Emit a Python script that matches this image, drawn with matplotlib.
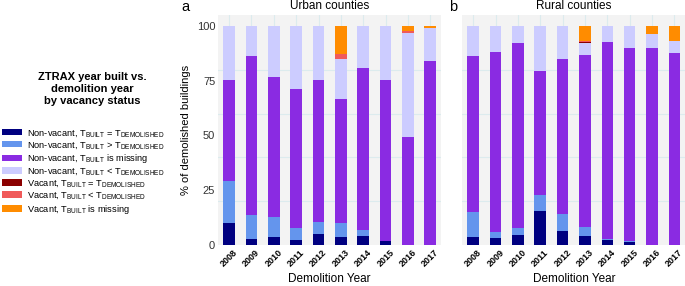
import numpy as np
import matplotlib
matplotlib.use("Agg")
import matplotlib.pyplot as plt
from matplotlib.patches import Patch
from matplotlib.ticker import MultipleLocator

plt.rcParams['font.family'] = ['Liberation Sans', 'DejaVu Sans']
plt.rcParams['mathtext.fontset'] = 'custom'
plt.rcParams['mathtext.rm'] = 'Liberation Sans'

years = [str(y) for y in range(2008, 2018)]

# stack order bottom -> top
categories = [
    r"Non-vacant, T$_{\mathrm{BUILT}}$ = T$_{\mathrm{DEMOLISHED}}$",
    r"Non-vacant, T$_{\mathrm{BUILT}}$ > T$_{\mathrm{DEMOLISHED}}$",
    r"Non-vacant, T$_{\mathrm{BUILT}}$ is missing",
    r"Non-vacant, T$_{\mathrm{BUILT}}$ < T$_{\mathrm{DEMOLISHED}}$",
    r"Vacant, T$_{\mathrm{BUILT}}$ = T$_{\mathrm{DEMOLISHED}}$",
    r"Vacant, T$_{\mathrm{BUILT}}$ < T$_{\mathrm{DEMOLISHED}}$",
    r"Vacant, T$_{\mathrm{BUILT}}$ is missing",
]
colors = ['#000080', '#6495ED', '#8A2BE2', '#CCCCFF', '#8B0000', '#F05A5A', '#FF8C00']

# % of demolished buildings per category (rows) and year (columns)
urban_nv_eq = [9.9, 2.9, 3.5, 2.3, 4.9, 3.6, 4.3, 1.8, 0.0, 0.0]
urban_nv_gt = [19.3, 10.6, 9.3, 5.5, 5.7, 6.3, 2.5, 0.2, 0.0, 0.0]
urban_nv_missing = [46.0, 72.7, 63.9, 63.3, 64.5, 56.7, 73.9, 73.5, 49.4, 84.2]
urban_nv_lt = [24.8, 13.8, 23.3, 28.9, 24.9, 18.4, 19.3, 24.5, 47.6, 14.8]
urban_v_eq = [0, 0, 0, 0, 0, 0.0, 0, 0, 0.0, 0.0]
urban_v_lt = [0, 0, 0, 0, 0, 2.1, 0, 0, 0.5, 0.0]
urban_v_missing = [0, 0, 0, 0, 0, 12.9, 0, 0, 2.5, 1.0]

rural_nv_eq = [3.8, 3.0, 4.4, 15.7, 6.4, 4.3, 2.4, 1.5, 0.0, 0.0]
rural_nv_gt = [11.1, 2.9, 3.2, 7.2, 7.6, 3.9, 0.4, 0.3, 0.0, 0.0]
rural_nv_missing = [71.4, 82.4, 84.5, 56.4, 70.7, 78.7, 89.8, 88.3, 90.1, 87.8]
rural_nv_lt = [13.7, 11.7, 7.9, 20.7, 15.3, 5.3, 7.4, 9.9, 6.4, 5.2]
rural_v_eq = [0, 0, 0, 0, 0, 0.6, 0, 0, 0.0, 0.0]
rural_v_lt = [0, 0, 0, 0, 0, 0.3, 0, 0, 0.0, 0.0]
rural_v_missing = [0, 0, 0, 0, 0, 6.9, 0, 0, 3.5, 7.0]

urban = [urban_nv_eq, urban_nv_gt, urban_nv_missing, urban_nv_lt,
         urban_v_eq, urban_v_lt, urban_v_missing]
rural = [rural_nv_eq, rural_nv_gt, rural_nv_missing, rural_nv_lt,
         rural_v_eq, rural_v_lt, rural_v_missing]

fig = plt.figure(figsize=(6.85, 2.86), dpi=100)
ax_a = fig.add_axes([0.3182, 0.1434, 0.3263, 0.8042])
ax_b = fig.add_axes([0.6745, 0.1434, 0.3263, 0.8042])

grid_col = '#DCEBEE'
for ax, data, title, letter, lx in [(ax_a, urban, 'Urban counties', 'a', -0.165),
                                    (ax_b, rural, 'Rural counties', 'b', -0.06)]:
    x = np.arange(len(years))
    bottom = np.zeros(len(years))
    for vals, c in zip(data, colors):
        vals = np.array(vals, dtype=float)
        ax.bar(x, vals, width=0.52, bottom=bottom, color=c, linewidth=0, zorder=3)
        bottom += vals
    ax.set_facecolor('#F3F3F3')
    ax.set_xlim(-0.5, len(years) - 0.5)
    ax.set_ylim(0, 105)
    ax.set_xticks(x)
    ax.set_xticklabels(years, rotation=45, ha='center', va='top',
                       fontsize=6.5, fontweight='bold')
    ax.set_yticks([0, 25, 50, 75, 100])
    ax.yaxis.set_minor_locator(MultipleLocator(20))
    ax.grid(which='minor', axis='y', color=grid_col, lw=0.8, zorder=0)
    ax.grid(which='major', axis='x', color=grid_col, lw=0.8, zorder=0)
    ax.tick_params(which='both', length=0, pad=2)
    ax.tick_params(axis='y', labelsize=8, colors='#333333')
    for s in ax.spines.values():
        s.set_visible(False)
    ax.set_xlabel('Demolition Year', fontsize=8.5, labelpad=3)
    ax.set_title(title, fontsize=8.5, pad=4)
    ax.text(lx, 1.035, letter, transform=ax.transAxes,
            fontsize=10.5, va='center', ha='left')

ax_a.set_ylabel('% of demolished buildings', fontsize=8, labelpad=4)
ax_b.set_yticklabels([])

fig.text(92 / 685, 1 - 89 / 286, 'ZTRAX year built vs.\ndemolition year\nby vacancy status',
         ha='center', va='center', fontsize=8, fontweight='bold', linespacing=1.3)

handles = [Patch(facecolor=c, edgecolor='none') for c in colors]
fig.legend(handles, categories, loc='upper left',
           bbox_to_anchor=(0.0, 1 - 126 / 286), frameon=False, fontsize=6.7,
           handlelength=2.2, handleheight=0.7, handletextpad=0.5,
           labelspacing=0.12, borderaxespad=0, borderpad=0.2)

fig.savefig('out.png', dpi=100)
